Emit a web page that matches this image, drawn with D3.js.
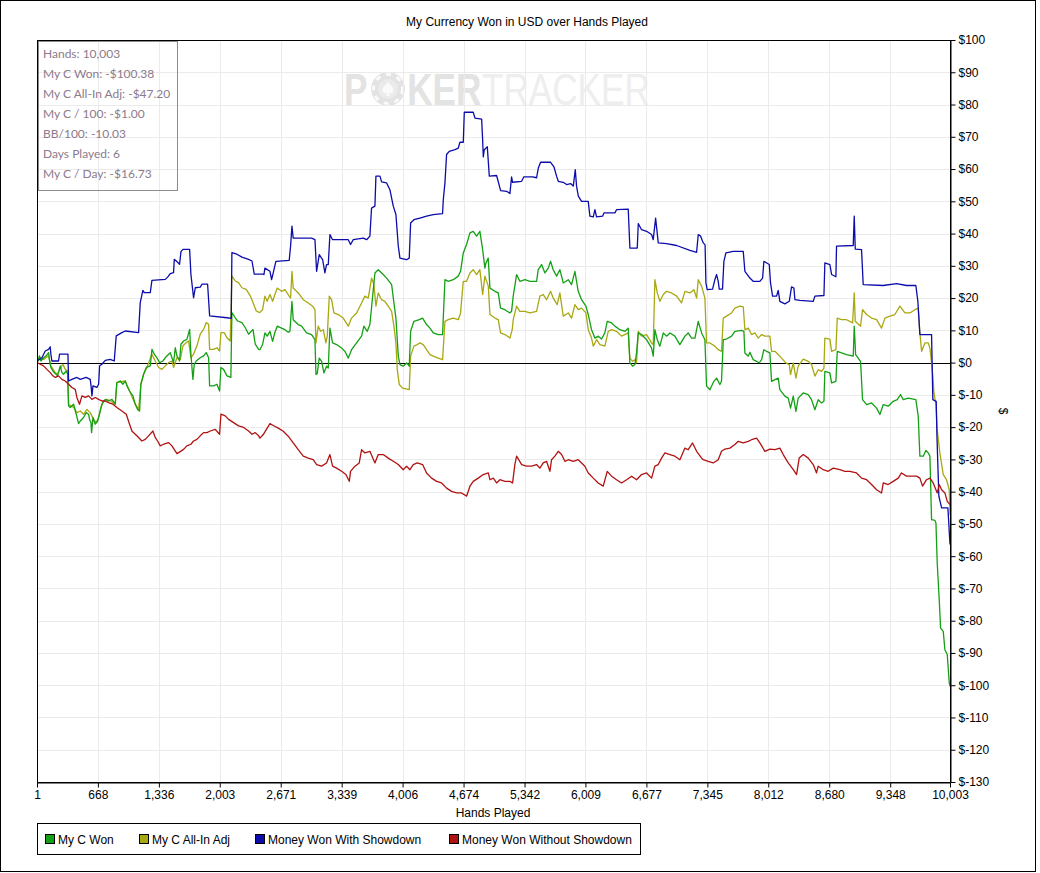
<!DOCTYPE html>
<html>
<head>
<meta charset="utf-8">
<script src="https://cdn.jsdelivr.net/npm/d3@7"></script>
<style>
  body { margin: 0; background: #fff; }
  svg text { font-family: "Liberation Sans", Arial, sans-serif; }
</style>
</head>
<body>
<svg id="chart" width="1040" height="873"></svg>
<script>
// Axis ticks
const xTickValues = [1, 668, 1336, 2003, 2671, 3339, 4006, 4674, 5342, 6009, 6677, 7345, 8012, 8680, 9348, 10003];
const xTickLabels = ["1", "668", "1,336", "2,003", "2,671", "3,339", "4,006", "4,674", "5,342", "6,009", "6,677", "7,345", "8,012", "8,680", "9,348", "10,003"];
const yTickValues = [-130, -120, -110, -100, -90, -80, -70, -60, -50, -40, -30, -20, -10, 0, 10, 20, 30, 40, 50, 60, 70, 80, 90, 100];

const statLines = ["Hands: 10,003", "My C Won: -$100.38", "My C All-In Adj: -$47.20", "My C / 100: -$1.00",
  "BB/100: -10.03", "Days Played: 6", "My C / Day: -$16.73"];

const seriesNames = ["My C Won", "My C All-In Adj", "Money Won With Showdown", "Money Won Without Showdown"];
const seriesColors = ["#14a014", "#a8a812", "#0c0caa", "#b01212"];

// [hand, dollars]
const myCWon = [[1,0],[29,2.1],[44,0.5],[73,1.5],[102,2.1],[128,3.1],[139,0.5],[153,-1.5],[175,-2.6],[201,-3.4],[226,-4.1],[256,-1.0],[274,-3.1],[292,-3.6],[321,-2.6],[336,-3.6],[347,-13.4],[365,-13.9],[402,-12.9],[431,-16.0],[457,-18.9],[475,-18.1],[511,-17.0],[540,-15.5],[566,-16.0],[577,-17.6],[592,-18.6],[599,-21.7],[614,-17.0],[639,-19.1],[665,-18.1],[694,-15.0],[712,-12.9],[749,-11.4],[785,-11.9],[822,-11.4],[858,-12.9],[876,-6.2],[913,-5.7],[942,-6.7],[968,-5.7],[986,-7.2],[1015,-8.8],[1052,-10.3],[1077,-12.9],[1103,-14.5],[1125,-15.0],[1139,-6.7],[1169,-3.6],[1198,-1.5],[1242,-1.0],[1260,4.1],[1286,2.6],[1315,1.5],[1344,0],[1380,0.5],[1406,1.5],[1443,2.6],[1461,3.1],[1479,1.5],[1497,0],[1516,4.6],[1534,2.1],[1563,0.5],[1578,5.7],[1607,6.7],[1643,7.2],[1673,10.3],[1687,2.6],[1709,-5.2],[1724,-0.5],[1746,0.5],[1789,1.5],[1826,2.1],[1855,3.1],[1881,1.5],[1892,-7.2],[1936,-7.2],[1972,-6.7],[2001,-8.8],[2016,-1.5],[2045,-2.1],[2082,-4.1],[2125,-4.6],[2136,15.5],[2173,13.9],[2199,12.9],[2246,12.4],[2283,10.8],[2319,8.8],[2367,10.3],[2392,5.7],[2429,4.1],[2443,4.0],[2472,5.6],[2498,9.2],[2523,8.2],[2553,9.7],[2582,6.6],[2607,9.4],[2633,11.3],[2680,10.7],[2717,10.2],[2753,9.4],[2772,9.7],[2794,19.0],[2808,13.3],[2863,11.8],[2900,11.3],[2954,9.2],[3009,8.7],[3046,7.1],[3057,-3.7],[3071,-3.4],[3093,1.4],[3119,0.4],[3144,-3.2],[3173,-1.1],[3192,-1.7],[3210,10.7],[3239,6.1],[3283,5.6],[3338,4.5],[3374,3.5],[3411,1.4],[3447,4.0],[3502,6.1],[3557,8.2],[3582,11.3],[3619,9.7],[3648,11.8],[3703,27.8],[3739,28.8],[3794,27.3],[3831,26.2],[3886,24.2],[3911,18.5],[3933,13.8],[3959,2.0],[3977,-0.6],[4013,-1.1],[4050,-0.1],[4079,-1.1],[4094,9.7],[4130,12.8],[4189,13.3],[4225,13.8],[4269,11.8],[4306,10.7],[4342,9.2],[4397,8.7],[4444,8.7],[4470,25.7],[4506,25.2],[4561,25.7],[4616,26.8],[4641,28.3],[4671,34.0],[4707,36.6],[4744,40.2],[4780,40.7],[4817,39.2],[4853,40.7],[4883,35.0],[4908,29.3],[4919,30.9],[4944,32.4],[4963,23.1],[5017,22.1],[5054,21.6],[5079,16.9],[5127,16.4],[5182,15.4],[5200,15.9],[5218,20.6],[5255,27.3],[5291,25.2],[5346,25.7],[5401,25.2],[5474,25.2],[5492,28.8],[5529,30.4],[5565,27.8],[5602,29.3],[5627,31.4],[5656,28.8],[5693,26.8],[5729,28.8],[5766,24.7],[5821,25.7],[5857,24.2],[5894,28.3],[5930,22.1],[5967,19.5],[6014,17.5],[6040,14.9],[6076,10.2],[6113,7.6],[6149,8.2],[6186,7.3],[6222,9.2],[6248,12.8],[6296,12.3],[6332,11.3],[6387,10.2],[6442,9.7],[6478,10.7],[6496,-0.1],[6526,-1.1],[6551,-0.6],[6569,3.0],[6588,9.2],[6624,8.7],[6679,7.1],[6734,4.5],[6752,2.0],[6770,10.2],[6796,7.1],[6825,5.1],[6862,9.2],[6898,8.2],[6935,9.2],[6989,8.2],[7044,5.6],[7099,8.2],[7135,9.2],[7172,7.6],[7209,7.6],[7245,12.8],[7282,9.2],[7318,7.1],[7336,-7.3],[7373,-8.4],[7416,-5.8],[7446,-4.8],[7482,-6.8],[7500,-5.8],[7519,7.1],[7555,7.3],[7610,8.2],[7646,9.7],[7719,10.0],[7745,9.7],[7756,3.0],[7793,2.0],[7811,3.2],[7847,0.9],[7884,0.4],[7913,-0.1],[7939,0.9],[7964,4.0],[7993,3.5],[8030,3.0],[8048,-5.8],[8085,-5.3],[8121,-4.8],[8139,-8.4],[8194,-10.4],[8231,-11.0],[8256,-14.1],[8286,-10.4],[8315,-15.1],[8340,-11.0],[8395,-9.4],[8450,-9.9],[8486,-11.5],[8523,-14.6],[8559,-11.5],[8596,-12.5],[8622,-12.0],[8632,-2.7],[8687,-3.2],[8706,-6.3],[8753,-5.8],[8768,3.5],[8815,3.0],[8870,2.5],[8943,2.0],[8954,11.3],[8969,2.5],[9023,0.4],[9045,-11.5],[9089,-13.0],[9144,-12.5],[9199,-14.1],[9235,-16.1],[9272,-13.0],[9326,-13.5],[9381,-12.0],[9425,-11.5],[9461,-9.9],[9491,-11.5],[9545,-11.0],[9629,-11.5],[9655,-16.6],[9673,-29.0],[9710,-29.0],[9739,-27.2],[9765,-28.0],[9783,-29.0],[9801,-48.7],[9838,-48.9],[9849,-49.7],[9863,-62.1],[9885,-73.5],[9900,-82.3],[9929,-83.3],[9947,-89.0],[9973,-90.5],[9995,-99.3],[10003,-100.38]];

const myCAllInAdj = [[1,0],[37,1.5],[73,1.0],[128,2.1],[153,-1.0],[201,-3.1],[226,-3.6],[263,-1.5],[285,-0.5],[310,-2.1],[336,-2.6],[347,-12.9],[402,-13.9],[438,-15.5],[475,-15.0],[511,-16.0],[548,-14.5],[584,-15.5],[621,-17.6],[650,-18.6],[676,-17.0],[701,-13.9],[730,-11.9],[767,-11.4],[811,-11.9],[858,-12.9],[876,-6.2],[968,-5.7],[1077,-12.9],[1114,-14.5],[1139,-6.7],[1169,-3.6],[1205,-1.5],[1260,2.6],[1296,0.5],[1333,-1.5],[1370,-2.1],[1406,-1.0],[1443,0],[1479,0.5],[1497,-1.5],[1534,1.5],[1570,1.0],[1600,5.2],[1636,6.2],[1662,6.7],[1687,1.5],[1716,2.6],[1753,5.2],[1789,8.8],[1826,10.3],[1855,12.4],[1881,11.9],[1892,4.1],[1936,4.1],[1972,4.6],[2001,3.6],[2016,9.3],[2052,9.3],[2082,7.7],[2118,6.7],[2136,26.9],[2173,25.3],[2209,24.8],[2246,23.2],[2293,22.7],[2337,20.7],[2367,18.6],[2403,16.0],[2440,15.5],[2472,16.4],[2498,20.6],[2523,19.0],[2553,21.1],[2582,19.0],[2607,21.1],[2633,23.1],[2680,22.1],[2717,22.6],[2764,20.6],[2779,20.0],[2794,28.3],[2808,23.1],[2863,21.6],[2918,19.5],[2973,18.5],[3020,17.5],[3046,16.4],[3057,6.1],[3082,11.3],[3108,9.7],[3137,10.2],[3166,6.1],[3181,8.2],[3203,20.6],[3228,19.5],[3254,15.4],[3301,14.9],[3356,13.8],[3411,11.3],[3447,13.8],[3502,15.4],[3557,18.5],[3593,20.6],[3630,20.0],[3666,26.2],[3692,24.2],[3714,17.5],[3739,21.6],[3776,19.5],[3812,19.0],[3849,17.5],[3886,15.9],[3911,11.3],[3933,6.1],[3948,-2.2],[3970,-6.8],[4006,-7.9],[4079,-8.4],[4094,2.0],[4130,5.1],[4167,5.6],[4196,6.1],[4232,5.6],[4269,4.0],[4306,2.5],[4342,2.0],[4397,1.4],[4444,0.9],[4470,12.8],[4506,13.3],[4561,13.8],[4616,13.3],[4641,15.4],[4671,25.2],[4707,25.2],[4744,27.8],[4780,28.8],[4817,27.3],[4853,28.8],[4883,21.1],[4908,26.8],[4945,23.7],[4963,14.9],[5017,13.8],[5054,13.3],[5079,9.2],[5127,8.7],[5182,7.6],[5207,10.2],[5218,13.3],[5255,17.5],[5291,15.9],[5346,15.9],[5401,15.4],[5474,15.9],[5510,20.6],[5547,21.1],[5583,19.5],[5627,22.1],[5656,20.0],[5700,18.0],[5729,21.6],[5766,14.4],[5821,15.4],[5857,13.8],[5894,18.0],[5930,16.4],[5967,16.9],[6014,15.4],[6040,10.2],[6076,7.6],[6095,5.1],[6131,7.1],[6168,5.6],[6222,5.1],[6259,9.7],[6296,10.2],[6350,9.7],[6405,8.2],[6478,9.2],[6496,1.4],[6526,0.4],[6551,0.9],[6569,-0.1],[6588,9.7],[6624,8.2],[6679,8.7],[6734,6.1],[6752,5.6],[6770,25.7],[6796,21.6],[6825,19.0],[6862,21.1],[6898,22.1],[6953,21.6],[7008,20.6],[7062,18.5],[7099,22.1],[7154,21.6],[7198,22.6],[7227,20.0],[7245,25.7],[7282,23.7],[7318,20.0],[7336,6.1],[7373,6.1],[7427,5.1],[7464,4.0],[7500,3.5],[7519,13.8],[7555,14.4],[7610,15.4],[7646,16.9],[7701,17.5],[7738,17.3],[7756,10.2],[7793,10.7],[7829,8.7],[7866,9.2],[7902,7.6],[7939,8.7],[7975,8.2],[8030,8.2],[8048,3.5],[8085,3.5],[8121,2.5],[8158,1.4],[8205,-0.1],[8242,-0.6],[8256,-3.7],[8286,-0.1],[8315,-4.8],[8340,-1.1],[8395,1.1],[8450,0.4],[8486,-0.6],[8523,-4.2],[8559,-2.2],[8596,-2.7],[8622,-1.7],[8632,7.6],[8687,7.3],[8706,3.5],[8753,4.0],[8768,13.8],[8815,13.3],[8870,13.3],[8936,12.3],[8954,21.6],[8965,12.8],[9023,11.3],[9045,16.4],[9089,14.9],[9144,13.8],[9199,13.3],[9253,10.7],[9290,13.8],[9345,14.4],[9399,14.9],[9454,17.5],[9509,15.4],[9564,15.4],[9619,16.4],[9655,16.9],[9673,9.2],[9692,3.5],[9728,6.1],[9765,6.1],[9783,4.5],[9801,-0.1],[9815,-4.2],[9827,-9.4],[9849,-13.0],[9863,-20.8],[9892,-28.0],[9929,-34.7],[9965,-36.3],[9995,-39.4],[10003,-47.2]];

const withShowdown = [[1,0],[1,0.5],[55,1.5],[91,3.6],[128,4.1],[146,4.9],[153,2.6],[164,0.5],[237,0.5],[248,2.6],[340,2.6],[347,-5.7],[383,-5.2],[438,-4.6],[475,-5.2],[540,-4.6],[584,-5.2],[595,-7.7],[603,-10.3],[614,-7.2],[657,-7.7],[676,-6.7],[687,-1.0],[712,-0.5],[749,0.7],[803,1.0],[847,0.5],[869,8.3],[931,9.3],[968,9.8],[1114,9.3],[1132,18.6],[1161,22.4],[1176,21.7],[1242,21.7],[1260,25.5],[1406,25.8],[1432,26.5],[1461,27.6],[1497,27.9],[1505,32.0],[1527,31.5],[1563,30.5],[1578,34.4],[1600,35.1],[1673,35.1],[1687,27.4],[1716,20.1],[1735,23.2],[1789,23.4],[1808,24.3],[1870,24.3],[1892,14.5],[2082,13.9],[2129,13.7],[2136,34.1],[2191,33.6],[2246,32.7],[2319,32.0],[2356,31.5],[2381,27.4],[2483,27.4],[2487,27.3],[2498,29.3],[2553,28.3],[2571,25.7],[2589,27.8],[2618,31.4],[2764,31.7],[2779,36.1],[2794,42.3],[2808,38.6],[3009,38.6],[3046,38.1],[3064,28.3],[3093,33.5],[3130,31.9],[3155,27.8],[3173,30.4],[3192,30.4],[3210,39.7],[3239,38.1],[3411,38.1],[3436,36.6],[3466,38.1],[3575,38.6],[3612,38.1],[3648,39.2],[3666,47.9],[3703,48.5],[3714,57.8],[3758,57.8],[3776,56.0],[3831,55.7],[3867,53.6],[3904,48.5],[3933,45.9],[3959,36.1],[3977,32.4],[4050,31.9],[4079,32.4],[4094,43.3],[4130,44.3],[4196,44.8],[4269,45.4],[4342,45.9],[4444,46.2],[4452,50.5],[4470,55.7],[4488,64.5],[4517,65.5],[4580,66.0],[4616,66.5],[4634,68.3],[4671,68.3],[4682,77.6],[4780,77.6],[4799,75.8],[4872,75.5],[4883,69.1],[4890,63.8],[4901,66.0],[4934,66.9],[4956,57.8],[5036,58.0],[5080,53.3],[5146,53.1],[5182,52.4],[5200,57.6],[5211,55.9],[5310,56.2],[5335,57.6],[5430,57.6],[5474,57.3],[5493,60.3],[5518,62.1],[5628,62.1],[5664,60.7],[5693,57.8],[5712,56.2],[5766,55.9],[5803,55.2],[5847,55.5],[5876,54.7],[5898,59.8],[5912,54.7],[5931,51.6],[5967,50.0],[6040,50.0],[6058,45.4],[6095,45.2],[6113,47.4],[6131,45.2],[6197,45.4],[6212,46.4],[6332,46.4],[6350,47.4],[6478,47.6],[6496,35.5],[6577,35.5],[6588,43.1],[6624,41.2],[6679,40.7],[6734,39.7],[6752,38.1],[6778,44.8],[6807,37.1],[6898,36.9],[7008,36.3],[7154,34.8],[7227,34.2],[7245,39.7],[7271,39.2],[7300,37.1],[7320,36.5],[7329,24.7],[7343,22.6],[7402,22.8],[7427,25.7],[7446,27.3],[7464,25.2],[7475,22.8],[7511,22.8],[7526,31.4],[7548,34.0],[7628,34.5],[7738,34.5],[7756,28.3],[7811,26.2],[7847,25.2],[7920,25.2],[7950,26.2],[7964,31.4],[8023,30.4],[8037,24.7],[8059,20.6],[8103,20.6],[8121,22.4],[8139,19.0],[8194,18.2],[8242,19.0],[8267,23.5],[8293,23.1],[8304,19.5],[8359,19.3],[8505,19.0],[8523,20.6],[8622,20.8],[8632,30.9],[8687,30.4],[8706,27.3],[8753,26.6],[8760,36.1],[8943,36.3],[8954,45.4],[8965,35.2],[9034,35.0],[9052,24.2],[9272,23.9],[9418,24.5],[9527,23.9],[9629,23.9],[9651,19.0],[9673,8.7],[9801,8.7],[9815,-11.5],[9852,-12.0],[9860,-22.8],[9881,-41.4],[9911,-45.0],[9980,-45.0],[10003,-56.4]];

const withoutShowdown = [[1,0],[37,-0.5],[73,-1.0],[110,-2.1],[146,-3.1],[175,-4.1],[201,-4.6],[237,-4.1],[274,-5.2],[310,-5.7],[347,-6.7],[383,-7.7],[420,-8.3],[438,-10.8],[467,-12.9],[493,-10.3],[530,-10.8],[566,-10.3],[603,-11.4],[639,-10.8],[676,-11.4],[712,-11.9],[749,-11.9],[785,-12.4],[833,-12.9],[876,-13.9],[931,-15.0],[979,-16.0],[1015,-19.1],[1041,-21.2],[1077,-22.2],[1114,-23.2],[1150,-24.3],[1187,-23.8],[1223,-22.7],[1271,-21.2],[1296,-23.2],[1322,-24.3],[1351,-25.8],[1388,-25.3],[1443,-24.8],[1479,-25.8],[1534,-28.2],[1570,-27.6],[1607,-26.9],[1643,-25.8],[1687,-25.3],[1716,-24.3],[1753,-23.8],[1789,-22.7],[1826,-21.7],[1863,-21.7],[1899,-21.2],[1954,-20.7],[2001,-22.2],[2016,-16.0],[2063,-16.5],[2100,-17.6],[2155,-18.6],[2209,-19.6],[2264,-20.1],[2319,-21.2],[2356,-22.2],[2392,-21.7],[2429,-22.7],[2443,-23.4],[2480,-22.3],[2516,-20.6],[2553,-18.9],[2589,-19.5],[2644,-20.3],[2699,-21.3],[2753,-22.8],[2808,-24.9],[2863,-27.0],[2918,-29.0],[2973,-29.6],[3027,-30.1],[3064,-31.6],[3119,-32.1],[3173,-31.1],[3210,-28.5],[3239,-32.1],[3283,-32.7],[3338,-33.7],[3385,-34.7],[3422,-36.8],[3436,-33.7],[3484,-32.1],[3531,-31.1],[3557,-27.0],[3593,-28.0],[3648,-27.5],[3703,-31.1],[3739,-28.5],[3794,-28.5],[3849,-29.6],[3904,-30.6],[3959,-31.6],[4013,-33.2],[4050,-32.1],[4086,-33.2],[4123,-31.6],[4167,-31.1],[4225,-31.6],[4269,-34.2],[4324,-35.8],[4379,-36.8],[4433,-37.3],[4488,-38.9],[4543,-39.9],[4598,-40.4],[4652,-40.4],[4707,-41.4],[4744,-38.3],[4780,-36.8],[4835,-35.8],[4890,-34.7],[4945,-34.2],[4963,-36.3],[5000,-35.8],[5036,-37.3],[5072,-36.3],[5127,-36.8],[5182,-36.8],[5211,-37.3],[5236,-31.6],[5255,-29.0],[5310,-31.6],[5364,-32.1],[5419,-32.1],[5474,-31.6],[5510,-32.7],[5547,-31.1],[5583,-30.6],[5620,-33.7],[5638,-30.1],[5675,-29.0],[5711,-27.5],[5748,-28.5],[5784,-30.6],[5821,-30.1],[5876,-30.6],[5930,-30.1],[5967,-31.1],[6003,-32.1],[6040,-34.2],[6095,-35.8],[6149,-37.3],[6204,-38.3],[6248,-33.7],[6296,-35.2],[6350,-36.3],[6405,-37.3],[6460,-36.3],[6515,-35.2],[6569,-36.3],[6624,-34.7],[6679,-34.2],[6734,-35.8],[6770,-32.1],[6807,-31.6],[6843,-29.6],[6880,-28.0],[6935,-28.5],[6989,-29.0],[7044,-30.1],[7099,-26.5],[7135,-27.0],[7183,-24.9],[7227,-27.5],[7282,-29.6],[7300,-30.1],[7354,-30.6],[7409,-31.1],[7464,-30.1],[7500,-27.5],[7537,-26.8],[7592,-26.5],[7646,-25.4],[7683,-24.4],[7738,-24.9],[7793,-24.4],[7829,-23.9],[7884,-23.4],[7920,-24.9],[7975,-27.5],[8030,-26.8],[8085,-27.0],[8139,-26.5],[8176,-28.5],[8231,-31.1],[8286,-33.2],[8322,-34.7],[8351,-29.6],[8395,-28.5],[8450,-29.6],[8505,-31.6],[8541,-34.2],[8559,-32.1],[8614,-33.2],[8669,-33.7],[8724,-32.7],[8797,-33.2],[8852,-33.7],[8906,-33.7],[8979,-34.2],[9034,-35.8],[9089,-36.3],[9144,-37.8],[9199,-39.4],[9253,-40.4],[9272,-37.3],[9326,-37.8],[9381,-36.8],[9436,-35.8],[9472,-34.2],[9527,-35.2],[9582,-35.2],[9637,-35.2],[9673,-35.8],[9702,-38.3],[9746,-36.3],[9783,-35.8],[9819,-37.3],[9863,-40.4],[9885,-37.8],[9911,-39.4],[9947,-40.4],[9973,-43.0],[10003,-44.0]];

const seriesData = [myCWon, myCAllInAdj, withShowdown, withoutShowdown];

// layout
const plotLeft = 37, plotRight = 950, plotTop = 40, plotBottom = 782;
const svg = d3.select("#chart");

svg.append("rect")
  .attr("x", 0.5).attr("y", 0.5)
  .attr("width", 1035).attr("height", 871)
  .attr("fill", "#fff").attr("stroke", "#000");

svg.append("text")
  .attr("x", 527).attr("y", 26)
  .attr("text-anchor", "middle")
  .style("font-size", "12px")
  .text("My Currency Won in USD over Hands Played");

const x = d3.scaleLinear().domain([1, 10003]).range([plotLeft, plotRight]);
const y = d3.scaleLinear().domain([-130, 100]).range([plotBottom, plotTop]);

// watermark (one text, squeezed horizontally)
const wm = svg.append("g").attr("class", "watermark");
wm.append("circle").attr("cx", 388).attr("cy", 89).attr("r", 17).attr("fill", "#e3e3e3");
wm.append("circle").attr("cx", 388).attr("cy", 89).attr("r", 14.5)
  .attr("fill", "none").attr("stroke", "#fafafa").attr("stroke-width", 3).attr("stroke-dasharray", "5 6");
wm.append("circle").attr("cx", 388).attr("cy", 89).attr("r", 10).attr("fill", "#ebebeb");
wm.append("path")
  .attr("transform", "translate(388,89)")
  .attr("d", "M0,-7 C3,-3 7,-1 5,3 C3.5,5.5 1.5,4 0.8,3 L2,7 L-2,7 L-0.8,3 C-1.5,4 -3.5,5.5 -5,3 C-7,-1 -3,-3 0,-7 Z")
  .attr("fill", "#fafafa");
const wmText = wm.append("text")
  .attr("transform", "translate(344,105) scale(0.78,1)")
  .style("font-size", "45px");
wmText.append("tspan").attr("x", 0).style("font-weight", "bold").attr("fill", "#e3e3e3").text("P");
wmText.append("tspan").attr("x", 81).style("font-weight", "bold").attr("fill", "#e3e3e3").text("KER");
wmText.append("tspan").attr("x", 177).attr("fill", "#eeeeee").text("TRACKER");

// grid
svg.append("g").selectAll("line").data(xTickValues).join("line")
  .attr("x1", d => Math.round(x(d)) + 0.5).attr("x2", d => Math.round(x(d)) + 0.5)
  .attr("y1", plotTop).attr("y2", plotBottom)
  .attr("stroke", "#ebebeb");
svg.append("g").selectAll("line").data(yTickValues).join("line")
  .attr("x1", plotLeft).attr("x2", plotRight)
  .attr("y1", d => Math.round(y(d)) + 0.5).attr("y2", d => Math.round(y(d)) + 0.5)
  .attr("stroke", "#ebebeb");

// zero line
svg.append("line")
  .attr("x1", plotLeft).attr("x2", plotRight)
  .attr("y1", Math.round(y(0)) + 0.5).attr("y2", Math.round(y(0)) + 0.5)
  .attr("stroke", "#000");

// stats box
svg.append("rect")
  .attr("x", 38.5).attr("y", 41.5).attr("width", 139).attr("height", 149)
  .attr("fill", "none").attr("stroke", "#8c8c8c");
svg.append("g").selectAll("text").data(statLines).join("text")
  .attr("x", 43).attr("y", (d, i) => 58 + i * 20)
  .style("font-family", "Lato, 'Open Sans', sans-serif")
  .style("font-size", "12px")
  .attr("fill", "#8c7a8c")
  .text(d => d);

// lines
svg.append("clipPath").attr("id", "plotClip")
  .append("rect").attr("x", plotLeft).attr("y", plotTop)
  .attr("width", plotRight - plotLeft).attr("height", plotBottom - plotTop);

const line = d3.line().x(d => x(d[0])).y(d => y(d[1]));
const drawOrder = [1, 0, 2, 3];
svg.append("g").attr("clip-path", "url(#plotClip)")
  .selectAll("path").data(drawOrder).join("path")
  .attr("d", i => line(seriesData[i]))
  .attr("fill", "none")
  .attr("stroke", i => seriesColors[i])
  .attr("stroke-width", 1.3)
  .attr("stroke-linejoin", "round");

// plot border
svg.append("rect")
  .attr("x", plotLeft + 0.5).attr("y", plotTop + 0.5)
  .attr("width", plotRight - plotLeft).attr("height", plotBottom - plotTop)
  .attr("fill", "none").attr("stroke", "#000");

// axes
const yFmt = v => v < 0 ? "$-" + Math.abs(v) : "$" + v;
const yAxis = svg.append("g")
  .attr("transform", `translate(${plotRight + 0.5},0)`)
  .call(d3.axisRight(y).tickValues(yTickValues).tickFormat(yFmt).tickSize(5).tickSizeOuter(0));
const xAxis = svg.append("g")
  .attr("transform", `translate(0,${plotBottom + 0.5})`)
  .call(d3.axisBottom(x).tickValues(xTickValues).tickFormat((d, i) => xTickLabels[i]).tickSize(5).tickSizeOuter(0));
[yAxis, xAxis].forEach(a => {
  a.selectAll("text").style("font-size", "12px").attr("fill", "#000");
  a.selectAll("line, path").attr("stroke", "#000");
});

svg.append("text")
  .attr("x", 493).attr("y", 817)
  .attr("text-anchor", "middle")
  .style("font-size", "12px")
  .text("Hands Played");

svg.append("text")
  .attr("transform", "translate(999,411) rotate(90)")
  .attr("text-anchor", "middle")
  .style("font-size", "12px")
  .text("$");

// legend
svg.append("rect")
  .attr("x", 37.5).attr("y", 823.5).attr("width", 603).attr("height", 31)
  .attr("fill", "#fff").attr("stroke", "#000");
const legendX = [45, 139, 255, 449];
const item = svg.append("g").selectAll("g").data(seriesNames).join("g")
  .attr("transform", (d, i) => `translate(${legendX[i]},834)`);
item.append("rect")
  .attr("x", 0.5).attr("y", 0.5).attr("width", 9).attr("height", 9)
  .attr("fill", (d, i) => seriesColors[i]).attr("stroke", "#000");
item.append("text")
  .attr("x", 13).attr("y", 9.5)
  .style("font-size", "12px")
  .text(d => d);
</script>
</body>
</html>
